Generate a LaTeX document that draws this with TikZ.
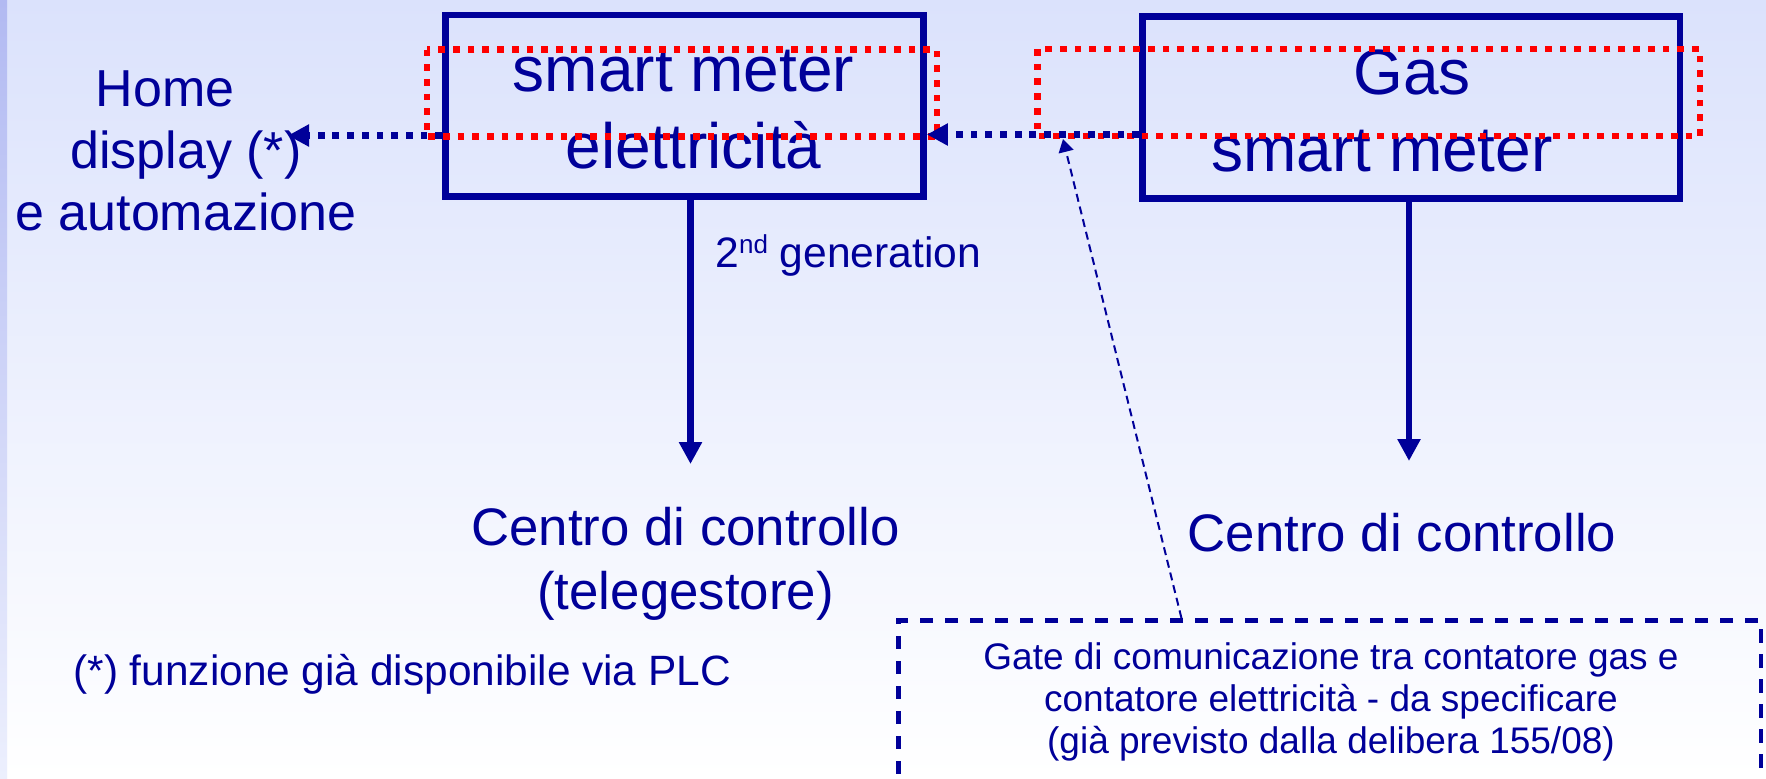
\documentclass[tikz,border=0pt]{standalone}
\usepackage{fontspec}
\setmainfont{Liberation Sans}
\usepackage{tikz}
\usetikzlibrary{arrows.meta,positioning,calc}
\definecolor{navy}{RGB}{0,0,153}
\definecolor{hired}{RGB}{255,0,0}
\definecolor{bgtop}{RGB}{219,226,252}
\definecolor{striptop}{RGB}{178,186,242}
\definecolor{stripbot}{RGB}{236,239,253}

\begin{document}
\begin{tikzpicture}[
    x=0.5pt, y=-0.5pt,
    meter/.style={draw=navy, line width=3.35pt, inner sep=0pt},
    hilite/.style={draw=hired, line width=3.35pt, dash pattern=on 3.35pt off 4pt},
    link/.style={navy, line width=3.6pt, dash pattern=on 3.4pt off 3.95pt, -{Triangle[length=10.5pt, width=10.5pt]}},
    flow/.style={navy, line width=3.4pt, -{Triangle[length=11pt, width=11pt]}},
    pointer/.style={navy, line width=1pt, dash pattern=on 4pt off 2.5pt, -{Triangle[length=6.5pt, width=7.5pt]}},
    gate/.style={draw=navy, line width=2.35pt, dash pattern=on 6.65pt off 5.85pt, inner sep=0pt},
    boxtxt/.style={navy, align=center, anchor=base, inner sep=0pt, font=\fontsize{32pt}{38.5pt}\selectfont},
    bigtxt/.style={navy, align=center, anchor=base, inner sep=0pt, font=\fontsize{26pt}{31pt}\selectfont}
]

% sfondo
\useasboundingbox (0,0) rectangle (1766,778);
\clip (0,0) rectangle (1766,778);
\shade[top color=bgtop, bottom color=white] (0,0) rectangle (1766,778);
\shade[top color=striptop, bottom color=stripbot] (0,0) rectangle (7,778);

% contatore elettrico (base = ultima riga)
\node[meter, minimum width=239pt, minimum height=90.75pt] (elbox) at (684.5,105.75) {};
\node[boxtxt] (eltext) at (693.5,168.5) {smart meter\hspace*{10pt}\\elettricità};

% contatore gas
\node[meter, minimum width=268.75pt, minimum height=91pt] (gasbox) at (1411.25,107.5) {};
\node[boxtxt] (gastext) at (1412,171) {Gas\\smart meter\hspace*{30pt}};

% home display
\node[bigtxt] (home) at (186,230) {Home\hspace*{21pt}\\display (*)\hspace*{21pt}\\e automazione};

% riquadri rossi
\draw[hilite] (427,49.5) rectangle (937,136.5);
\draw[hilite] (1037.5,49) rectangle (1700,136);

% collegamenti locali
\coordinate (homeend) at (288,135.5);
\coordinate (busline) at (0,134.5);
\draw[link] (elbox.west |- homeend) -- (homeend);
\draw[link] (gasbox.west |- busline) -- (elbox.east |- busline);

% centri di controllo
\node[bigtxt, font=\fontsize{26.4pt}{32pt}\selectfont] (elctrl) at (685.5,609) {Centro di controllo\\(telegestore)};
\node[bigtxt, font=\fontsize{26.4pt}{32pt}\selectfont] (gasctrl) at (1402,551) {Centro di controllo};

\coordinate (eltip) at (690.5,464);
\coordinate (gastip) at (1409,461);
\draw[flow] (elbox.south -| eltip) -- (eltip);
\draw[flow] (gasbox.south -| gastip) -- (gastip);

\node[navy, anchor=base west, inner sep=0pt, font=\fontsize{21.3pt}{25pt}\selectfont] (gen) at (715,267)
    {2\raisebox{7pt}{\fontsize{13pt}{13pt}\selectfont nd} generation};

% nota
\node[navy, anchor=base west, inner sep=0pt, font=\fontsize{21.2pt}{25pt}\selectfont] (note) at (73,685)
    {(*) funzione già disponibile via PLC};

% gate di comunicazione
\node[gate, minimum width=431.25pt, minimum height=129.75pt] (gatebox) at (1329.75,750.25) {};
\node[navy, align=center, anchor=base, inner sep=0pt, font=\fontsize{18.5pt}{21pt}\selectfont] (gatetext) at (1331,753)
    {Gate di comunicazione tra contatore gas e\\contatore elettricità - da specificare\\(già previsto dalla delibera 155/08)};

\coordinate (gatetip) at (1063,139);
\draw[pointer] ($(gatebox.north west)!0.329!(gatebox.north east)$) -- (gatetip);

\end{tikzpicture}
\end{document}
